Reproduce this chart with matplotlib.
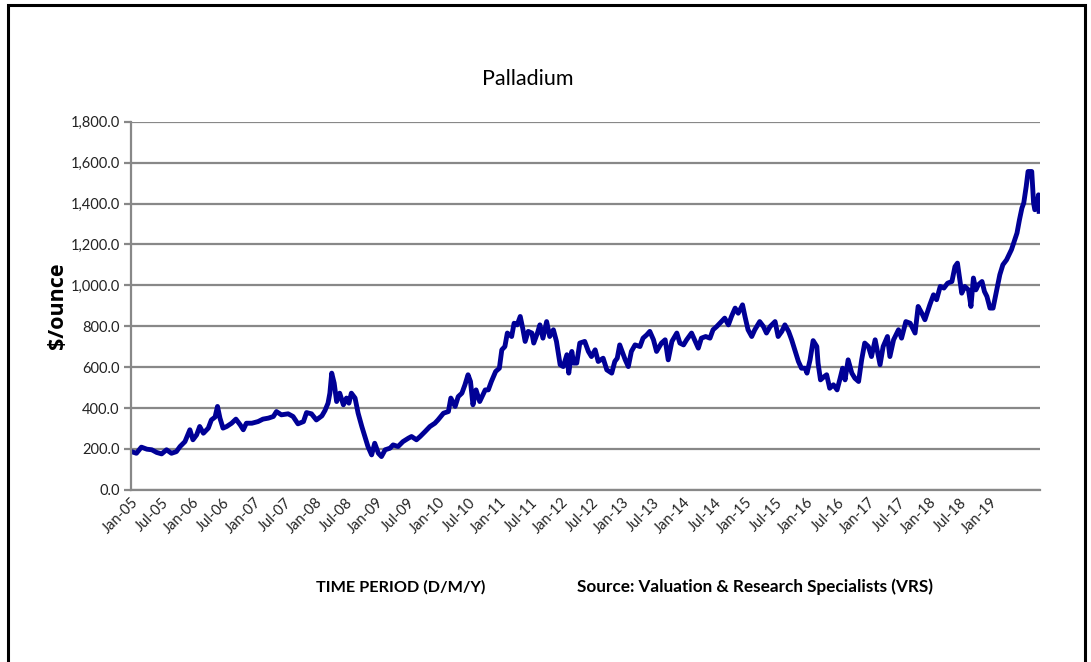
import matplotlib
matplotlib.use("Agg")
import matplotlib.pyplot as plt
from matplotlib.patches import Rectangle

# Palladium price, $/ounce, time as decimal year
years = [
    2005.01, 2005.09, 2005.17, 2005.26, 2005.34, 2005.42, 2005.50, 2005.58, 2005.66, 2005.74,
    2005.80, 2005.88, 2005.96, 2006.01, 2006.07, 2006.12, 2006.18, 2006.26, 2006.31, 2006.37,
    2006.41, 2006.45, 2006.50, 2006.56, 2006.64, 2006.71, 2006.78, 2006.83, 2006.88, 2006.97,
    2007.07, 2007.15, 2007.24, 2007.32, 2007.37, 2007.45, 2007.56, 2007.64, 2007.72, 2007.81,
    2007.86, 2007.94, 2008.02, 2008.11, 2008.16, 2008.21, 2008.24, 2008.27, 2008.31, 2008.35,
    2008.40, 2008.46, 2008.51, 2008.55, 2008.59, 2008.65, 2008.70, 2008.76, 2008.81, 2008.86,
    2008.92, 2008.97, 2009.03, 2009.08, 2009.14, 2009.22, 2009.27, 2009.35, 2009.43, 2009.52,
    2009.57, 2009.65, 2009.71, 2009.79, 2009.87, 2009.95, 2010.00, 2010.09, 2010.17, 2010.21,
    2010.28, 2010.33, 2010.39, 2010.44, 2010.49, 2010.53, 2010.57, 2010.62, 2010.68, 2010.77,
    2010.82, 2010.87, 2010.94, 2011.00, 2011.04, 2011.09, 2011.13, 2011.20, 2011.24, 2011.29,
    2011.34, 2011.38, 2011.42, 2011.47, 2011.53, 2011.56, 2011.62, 2011.66, 2011.71, 2011.77,
    2011.82, 2011.88, 2011.93, 2011.99, 2012.04, 2012.10, 2012.13, 2012.18, 2012.21, 2012.26,
    2012.31, 2012.39, 2012.45, 2012.50, 2012.56, 2012.61, 2012.69, 2012.75, 2012.83, 2012.88,
    2012.92, 2012.96, 2013.01, 2013.05, 2013.10, 2013.15, 2013.21, 2013.29, 2013.34, 2013.40,
    2013.45, 2013.51, 2013.56, 2013.64, 2013.70, 2013.75, 2013.81, 2013.89, 2013.94, 2014.00,
    2014.05, 2014.13, 2014.19, 2014.24, 2014.29, 2014.36, 2014.43, 2014.48, 2014.54, 2014.59,
    2014.67, 2014.73, 2014.78, 2014.84, 2014.89, 2014.96, 2015.00, 2015.05, 2015.11, 2015.16,
    2015.24, 2015.30, 2015.35, 2015.41, 2015.49, 2015.54, 2015.60, 2015.65, 2015.71, 2015.76,
    2015.81, 2015.87, 2015.92, 2015.98, 2016.01, 2016.06, 2016.11, 2016.17, 2016.19, 2016.23,
    2016.29, 2016.33, 2016.38, 2016.44, 2016.50, 2016.55, 2016.59, 2016.63, 2016.68, 2016.74,
    2016.79, 2016.85, 2016.90, 2016.95, 2017.01, 2017.06, 2017.12, 2017.20, 2017.25, 2017.32,
    2017.36, 2017.42, 2017.50, 2017.55, 2017.62, 2017.69, 2017.77, 2017.82, 2017.88, 2017.93,
    2018.01, 2018.07, 2018.12, 2018.18, 2018.24, 2018.30, 2018.37, 2018.42, 2018.46, 2018.50,
    2018.53, 2018.58, 2018.64, 2018.68, 2018.72, 2018.76, 2018.80, 2018.86, 2018.90, 2018.94,
    2018.99, 2019.04, 2019.10, 2019.15, 2019.20, 2019.26, 2019.34, 2019.43, 2019.47, 2019.51,
    2019.54, 2019.58, 2019.61, 2019.67, 2019.70, 2019.72, 2019.75, 2019.78, 2019.79,
]
prices = [
    187, 179, 209, 199, 196, 183, 176, 196, 179, 187,
    212, 236, 294, 245, 269, 310, 277, 302, 342, 356,
    408, 351, 302, 310, 326, 346, 318, 294, 326, 326,
    334, 346, 351, 359, 383, 367, 372, 359, 323, 334,
    378, 372, 342, 362, 388, 424, 473, 571, 522, 432,
    473, 416, 449, 424, 473, 449, 375, 310, 261, 212,
    171, 228, 179, 163, 196, 204, 220, 212, 236, 253,
    261, 245, 261, 285, 310, 326, 342, 375, 383, 449,
    408, 456, 473, 514, 563, 530, 416, 489, 432, 489,
    489, 530, 579, 595, 685, 701, 767, 750, 815, 807,
    848, 791, 726, 775, 767, 718, 767, 807, 742, 823,
    750, 783, 726, 612, 603, 661, 571, 677, 620, 620,
    718, 726, 677, 652, 685, 628, 644, 587, 571, 628,
    644, 709, 669, 636, 603, 677, 709, 701, 742, 758,
    775, 734, 677, 718, 734, 636, 726, 767, 718, 709,
    734, 767, 726, 693, 742, 750, 742, 783, 799, 815,
    840, 807, 848, 889, 864, 905, 848, 783, 750, 783,
    823, 799, 767, 799, 823, 750, 775, 807, 775, 734,
    685, 628, 595, 595, 571, 636, 730, 701, 620, 538,
    554, 563, 497, 514, 489, 546, 595, 538, 636, 571,
    546, 530, 636, 718, 701, 652, 734, 612, 701, 750,
    652, 734, 783, 742, 823, 815, 767, 897, 864, 832,
    905, 954, 930, 995, 987, 1011, 1019, 1092, 1109, 1027,
    962, 995, 978, 897, 1036, 978, 1003, 1019, 970, 946,
    889, 889, 978, 1052, 1101, 1125, 1175, 1256, 1321, 1378,
    1403, 1484, 1557, 1557, 1403, 1370, 1378, 1443, 1362,
]

tick_years = [2005 + 0.5 * i for i in range(29)]
tick_labels = []
for i in range(29):
    yr = 5 + i // 2
    tick_labels.append(("Jan-" if i % 2 == 0 else "Jul-") + "%02d" % yr)

y_ticks = list(range(0, 2000, 200))

plt.rcParams["font.family"] = ["Lato", "DejaVu Sans"]

fig = plt.figure(figsize=(10.91, 6.62), dpi=100)
ax = fig.add_axes([0.120, 0.260, 0.833, 0.556])

# Price line
ax.plot(years, prices, color="#000096", linewidth=3.5, solid_joinstyle="round")

ax.set_xlim(2005.0, 2019.80)
ax.set_ylim(0, 1800)
ax.set_yticks(y_ticks)
ax.set_yticklabels(["{:,.1f}".format(v) for v in y_ticks], fontsize=10.5, color="#222222")
ax.set_xticks(tick_years)
ax.set_xticklabels(tick_labels, rotation=45, ha="right", va="top",
                   rotation_mode="anchor", fontsize=10.5, color="#222222")

ax.grid(axis="y", color="#888888", linewidth=1.6)
ax.set_axisbelow(True)
for side in ["top", "right"]:
    ax.spines[side].set_visible(False)
for side in ["left", "bottom"]:
    ax.spines[side].set_color("#888888")
    ax.spines[side].set_linewidth(1.6)
ax.tick_params(axis="y", length=5, width=1.6, color="#888888", pad=3)
ax.tick_params(axis="x", length=0, pad=4)

ax.set_ylabel("$/ounce", fontsize=15.5, fontweight="bold",
              family=["Open Sans", "DejaVu Sans"])
ax.yaxis.set_label_coords(-0.069, 0.5)

fig.text(0.484, 0.880, "Palladium", ha="center", va="center", fontsize=15.5)
fig.text(0.367, 0.113, "TIME PERIOD (D/M/Y)", ha="center", va="center",
         fontsize=11.7, fontweight="bold")
fig.text(0.692, 0.113, "Source: Valuation & Research Specialists (VRS)", ha="center",
         va="center", fontsize=12.3, fontweight="bold")

# Frame around the whole chart (bottom edge lies outside the picture)
fig.add_artist(Rectangle((8 / 1091, -0.05), 1077 / 1091, 1.05 - 5 / 662,
                         transform=fig.transFigure, fill=False,
                         edgecolor="black", linewidth=2.2))

fig.savefig("out.png", dpi=100)
